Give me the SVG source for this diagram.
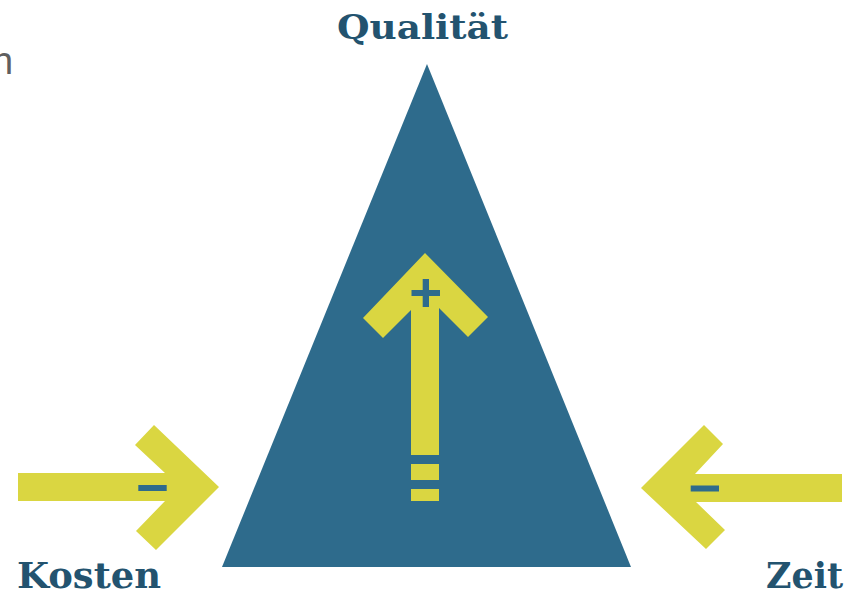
<svg xmlns="http://www.w3.org/2000/svg" width="858" height="590" viewBox="0 0 858 590">
<style>
.tri{fill:#2e6b8c}
.arr{fill:#dad641}
.sign{fill:#2e6b8c}
.lbl{font-family:"DejaVu Serif","Liberation Serif",serif;font-weight:bold;font-size:33px;fill:#23536f}
.big{font-size:35px}
.frag{font-family:"Liberation Sans",Arial,sans-serif;font-size:38px;fill:#5f5f5f}
</style>
<rect width="858" height="590" fill="#ffffff"/>
<text class="frag" x="-8" y="74">n</text>
<g id="triangle">
<polygon class="tri" points="427,64 631,567 222,567"/>
</g>
<g id="quality-arrow">
<polygon class="arr" points="425,253 488,317 468,337 439,308 439,455 411,455 411,310 383,338 363,318"/>
<rect class="arr" x="411" y="464" width="28" height="16"/>
<rect class="arr" x="411" y="489" width="28" height="12"/>
<rect class="sign" x="411.5" y="290" width="28.5" height="6"/>
<rect class="sign" x="422.7" y="279" width="6.3" height="28"/>
</g>
<g id="cost-arrow">
<polygon class="arr" points="18,473 165,473 135,445 154,425 219,487 156,550 136,531 165,501 18,501"/>
<rect class="sign" x="138.3" y="485" width="28.4" height="6"/>
</g>
<g id="time-arrow">
<polygon class="arr" points="842,474 695,474 723,444 704,425 641,488 706,549 725,530 696,502 842,502"/>
<rect class="sign" x="690.7" y="485.5" width="28.3" height="6"/>
</g>
<g id="labels">
<text class="lbl" x="337" y="39" textLength="171" lengthAdjust="spacingAndGlyphs">Qualität</text>
<text class="lbl big" x="17" y="588" textLength="144" lengthAdjust="spacingAndGlyphs">Kosten</text>
<text class="lbl big" x="766" y="588" textLength="77" lengthAdjust="spacingAndGlyphs">Zeit</text>
</g>
</svg>
